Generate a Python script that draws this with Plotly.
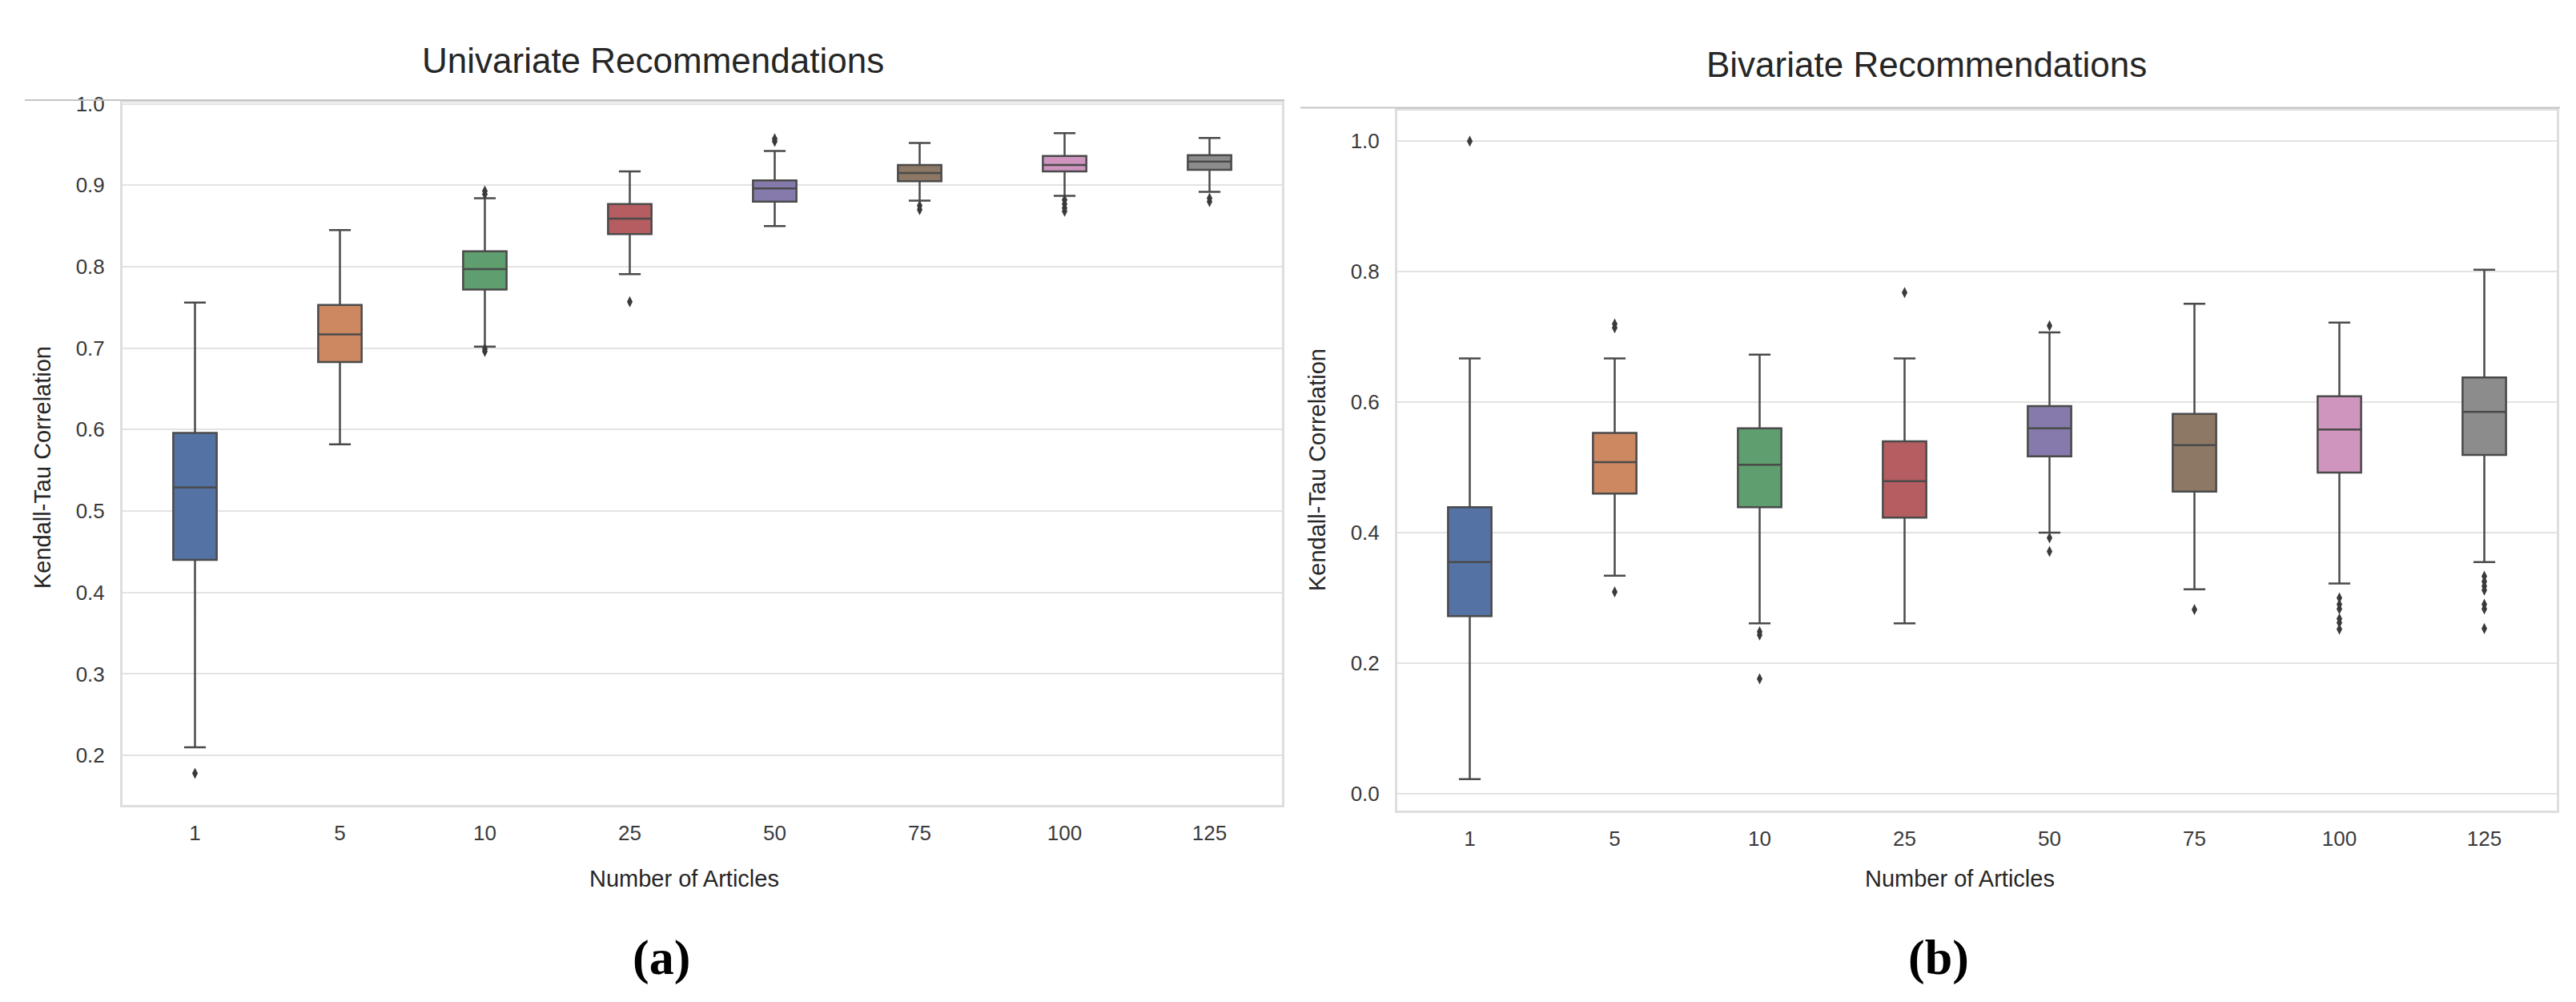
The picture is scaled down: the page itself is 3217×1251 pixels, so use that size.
import plotly.graph_objects as go

# categories (number of articles)
cats = ["1", "5", "10", "25", "50", "75", "100", "125"]

# (a) univariate recommendations - box stats
uni_lo = [0.210, 0.582, 0.702, 0.791, 0.850, 0.881, 0.887, 0.892]
uni_q1 = [0.440, 0.683, 0.772, 0.840, 0.880, 0.905, 0.917, 0.919]
uni_med = [0.529, 0.717, 0.797, 0.859, 0.896, 0.915, 0.925, 0.929]
uni_q3 = [0.596, 0.753, 0.819, 0.877, 0.906, 0.925, 0.936, 0.937]
uni_hi = [0.756, 0.845, 0.884, 0.917, 0.942, 0.952, 0.964, 0.958]
uni_out = [[0.178], [], [0.889, 0.893, 0.696, 0.699], [0.757], [0.954, 0.957],
           [0.875, 0.870], [0.882, 0.877, 0.872, 0.868], [0.884, 0.880]]

# (b) bivariate recommendations
bi_lo = [0.022, 0.334, 0.261, 0.261, 0.400, 0.313, 0.322, 0.355]
bi_q1 = [0.272, 0.460, 0.439, 0.423, 0.517, 0.463, 0.492, 0.519]
bi_med = [0.355, 0.508, 0.504, 0.479, 0.560, 0.534, 0.558, 0.585]
bi_q3 = [0.439, 0.553, 0.560, 0.540, 0.594, 0.582, 0.609, 0.638]
bi_hi = [0.667, 0.667, 0.673, 0.667, 0.707, 0.751, 0.722, 0.803]
bi_out = [[1.0], [0.720, 0.714, 0.309], [0.248, 0.243, 0.176], [0.768],
          [0.717, 0.392, 0.371], [0.282],
          [0.300, 0.290, 0.283, 0.268, 0.262, 0.252],
          [0.333, 0.325, 0.318, 0.312, 0.290, 0.283, 0.253]]

colors = ["#5572a5", "#cd8862", "#5f9e6e", "#b55d60", "#857aab", "#8d7866", "#d095bf", "#8c8c8c"]
line_col = "#4a4a4a"

W, H = 3217, 1251
fig = go.Figure()


def add_panel(lo, q1, med, q3, hi, out, xa, ya):
    for i, c in enumerate(cats):
        fig.add_trace(go.Box(
            x=[c], lowerfence=[lo[i]], q1=[q1[i]], median=[med[i]], q3=[q3[i]], upperfence=[hi[i]],
            fillcolor=colors[i], line=dict(color=line_col, width=2.5), width=0.3,
            whiskerwidth=0.5, boxpoints=False, showlegend=False, xaxis=xa, yaxis=ya))
        if out[i]:
            fig.add_trace(go.Scatter(
                x=[c] * len(out[i]), y=out[i], mode="markers",
                marker=dict(symbol="diamond-tall", size=10, color="#3a3a3a"),
                showlegend=False, xaxis=xa, yaxis=ya))


add_panel(uni_lo, uni_q1, uni_med, uni_q3, uni_hi, uni_out, "x", "y")
add_panel(bi_lo, bi_q1, bi_med, bi_q3, bi_hi, bi_out, "x2", "y2")

font = "Liberation Sans, Arial, sans-serif"
xcommon = dict(type="category", categoryorder="array", categoryarray=cats, range=[-0.5, 7.5],
               showgrid=False, showline=True, mirror=True, linecolor="#dedede", linewidth=3,
               ticks="", ticklabelstandoff=10, tickfont=dict(family=font, size=26, color="#3a3a3a"),
               zeroline=False)
ycommon = dict(showgrid=True, gridcolor="#e3e3e3", gridwidth=2, showline=True, mirror=True,
               linecolor="#dedede", linewidth=3, ticks="", ticklabelstandoff=14, zeroline=False,
               tickformat=".1f", tickfont=dict(family=font, size=26, color="#3a3a3a"))

fig.update_layout(
    width=W, height=H, margin=dict(l=0, r=0, t=0, b=0),
    paper_bgcolor="white", plot_bgcolor="white", boxmode="overlay",
    xaxis=dict(xcommon, domain=[145 / W, 1593 / W], anchor="y"),
    yaxis=dict(ycommon, domain=[1 - 994 / H, 1 - 108 / H], anchor="x",
               range=[0.1395, 1.0017], tickvals=[0.2, 0.3, 0.4, 0.5, 0.6, 0.7, 0.8, 0.9, 1.0]),
    xaxis2=dict(xcommon, domain=[1737 / W, 3185 / W], anchor="y2"),
    yaxis2=dict(ycommon, domain=[1 - 1001.6 / H, 1 - 118.7 / H], anchor="x2",
                range=[-0.0263, 1.0465], tickvals=[0.0, 0.2, 0.4, 0.6, 0.8, 1.0]),
)


def txt(s, x, y, size, angle=0, family=font, color="#262626"):
    fig.add_annotation(text=s, x=x / W, y=1 - y / H, xref="paper", yref="paper",
                       showarrow=False, textangle=angle, xanchor="center", yanchor="middle",
                       font=dict(family=family, size=size, color=color))


txt("Univariate Recommendations", 808, 55, 44)
txt("Bivariate Recommendations", 2398, 60, 44)
txt("Number of Articles", 847, 1087, 29)
txt("Number of Articles", 2439, 1087, 29)
txt("Kendall-Tau Correlation", 45, 569, 29, angle=-90)
txt("Kendall-Tau Correlation", 1637, 571, 29, angle=-90)
txt("<b>(a)</b>", 818, 1187, 62, family="Liberation Serif, serif", color="black")
txt("<b>(b)</b>", 2413, 1187, 62, family="Liberation Serif, serif", color="black")

# thin grey rules above each panel (edge of the pasted screenshots)
fig.add_shape(type="line", xref="paper", yref="paper", x0=23 / W, x1=1596 / W,
              y0=1 - 105 / H, y1=1 - 105 / H, line=dict(color="#c4c4c4", width=2))
fig.add_shape(type="line", xref="paper", yref="paper", x0=1616 / W, x1=3189 / W,
              y0=1 - 114.7 / H, y1=1 - 114.7 / H, line=dict(color="#c4c4c4", width=2))

fig.write_html("out.html")
